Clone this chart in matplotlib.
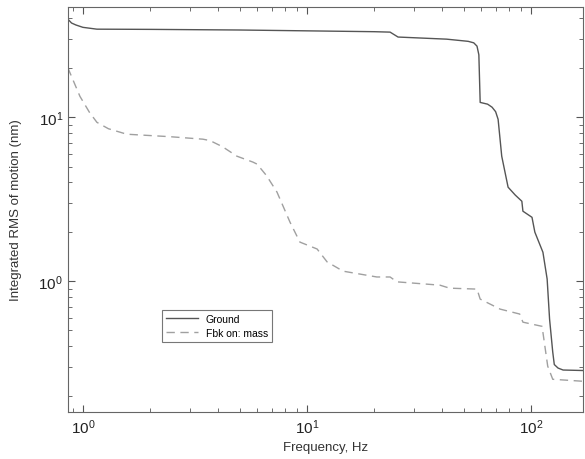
import matplotlib
matplotlib.use("Agg")
from matplotlib import pyplot as plt

plt.rcParams['font.family'] = ['Liberation Sans', 'DejaVu Sans']

# Ground motion, integrated RMS (nm)
ground_f = [0.857, 0.89, 0.93, 1.0, 1.155, 2.0, 5.0, 10.0, 20.0, 23.5, 25.5, 42.0, 52.4,
            55.5, 57.4, 58.5, 59.3, 64.0, 67.0, 69.5, 71.3, 74.0, 79.0, 85.0, 91.0, 92.0,
            101.0, 104.0, 113.0, 118.0, 121.0, 125.0, 127.0, 132.0, 139.0, 171.0]
ground_rms = [39.6, 37.5, 36.5, 35.3, 34.4, 34.3, 34.0, 33.6, 33.2, 33.0, 30.8, 29.9, 29.0,
              28.4, 27.1, 24.0, 12.3, 12.0, 11.5, 10.8, 9.7, 5.78, 3.74, 3.35, 3.07, 2.67,
              2.45, 1.99, 1.50, 1.03, 0.586, 0.369, 0.31, 0.295, 0.287, 0.285]

# Feedback on: mass
fbk_f = [0.857, 0.97, 1.07, 1.155, 1.3, 1.57, 2.45, 3.43, 3.69, 4.2, 4.87, 5.74, 5.99,
         6.6, 7.35, 8.4, 9.3, 11.1, 12.3, 14.5, 20.5, 23.5, 25.2, 39.2, 43.3, 57.4,
         59.3, 72.8, 89.0, 92.0, 112.0, 118.7, 125.0, 171.0]
fbk_rms = [20.0, 13.4, 10.7, 9.3, 8.5, 7.87, 7.6, 7.34, 7.2, 6.6, 5.78, 5.32, 5.17,
           4.4, 3.49, 2.29, 1.73, 1.57, 1.31, 1.15, 1.06, 1.06, 0.99, 0.945, 0.906, 0.894,
           0.777, 0.675, 0.63, 0.562, 0.53, 0.303, 0.252, 0.245]

fig = plt.figure(figsize=(5.85, 4.6), dpi=100)
ax = fig.add_axes([0.116, 0.102, 0.8806, 0.8804])

ax.loglog(ground_f, ground_rms, color='#555555', lw=1.0, label='Ground')
ax.loglog(fbk_f, fbk_rms, color='#a0a0a0', lw=1.0, ls=(0, (6, 4)), label='Fbk on: mass')

ax.set_xlim(0.857, 170.6)
ax.set_ylim(0.159, 46.9)

ax.set_xlabel('Frequency, Hz', fontsize=9.5, color='#333333')
ax.set_ylabel('Integrated RMS of motion (nm)', fontsize=9.5, color='#333333', labelpad=12)

ax.tick_params(which='both', direction='in', top=True, right=True, colors='#555555',
               labelcolor='#222222', labelsize=11)
ax.tick_params(which='major', length=5, width=0.8)
ax.tick_params(which='minor', length=3, width=0.6)
for s in ax.spines.values():
    s.set_color('#666666')
    s.set_linewidth(0.8)

leg = ax.legend(loc='lower left', bbox_to_anchor=(0.173, 0.16), fontsize=7.5,
                fancybox=False, framealpha=1, borderpad=0.4, handlelength=3,
                labelspacing=0.4)
leg.get_frame().set_edgecolor('#777777')
leg.get_frame().set_linewidth(0.8)

fig.savefig('out.png', dpi=100)
